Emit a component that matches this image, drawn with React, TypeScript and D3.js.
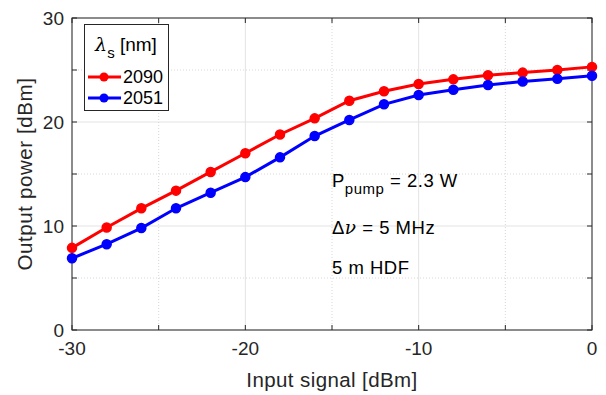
import React from 'react';
import * as d3 from 'd3';

// Input signal [dBm]
const inputSignal = [-30, -28, -26, -24, -22, -20, -18, -16, -14, -12, -10, -8, -6, -4, -2, 0];
// Output power [dBm] at 2090 nm
const out2090 = [7.9, 9.85, 11.7, 13.4, 15.2, 17.0, 18.8, 20.35, 22.05, 22.95, 23.65, 24.1, 24.5, 24.75, 25.0, 25.3];
// Output power [dBm] at 2051 nm
const out2051 = [6.9, 8.25, 9.8, 11.7, 13.2, 14.7, 16.6, 18.65, 20.2, 21.7, 22.6, 23.1, 23.55, 23.9, 24.15, 24.45];

const xTicks = [-30, -20, -10, 0];
const xMinor = [-25, -15, -5];
const yTicks = [0, 10, 20, 30];
const yMinor = [5, 15, 25];

const seriesList = [
  { label: '2090', color: '#ff0000', values: out2090 },
  { label: '2051', color: '#0000ff', values: out2051 },
];

const W = 606;
const H = 395;
const margin = { top: 18, right: 14, bottom: 65, left: 72 };
const font = 'Liberation Sans, Arial, sans-serif';

export default function App() {
  const x = d3.scaleLinear().domain([-30, 0]).range([margin.left, W - margin.right]);
  const y = d3.scaleLinear().domain([0, 30]).range([H - margin.bottom, margin.top]);
  const line = d3
    .line<number>()
    .x((_, i) => x(inputSignal[i]))
    .y((d) => y(d));

  const x0 = x(-30), x1 = x(0), y0 = y(0), y1 = y(30);

  return (
    <svg
      width={W}
      height={H}
      style={{ position: 'absolute', left: 0, top: 0, background: '#fff' }}
      fontFamily={font}
    >
      {/* grid */}
      {xTicks.map((t) => (
        <line key={'gx' + t} x1={x(t)} x2={x(t)} y1={y0} y2={y1} stroke="#e3e3e3" strokeWidth={1} />
      ))}
      {yTicks.map((t) => (
        <line key={'gy' + t} x1={x0} x2={x1} y1={y(t)} y2={y(t)} stroke="#e3e3e3" strokeWidth={1} />
      ))}
      {xMinor.map((t) => (
        <line key={'mx' + t} x1={x(t)} x2={x(t)} y1={y0} y2={y1} stroke="#d8d8d8" strokeWidth={1} strokeDasharray="1,2" />
      ))}
      {yMinor.map((t) => (
        <line key={'my' + t} x1={x0} x2={x1} y1={y(t)} y2={y(t)} stroke="#d8d8d8" strokeWidth={1} strokeDasharray="1,2" />
      ))}

      {/* box */}
      <rect x={x0} y={y1} width={x1 - x0} height={y0 - y1} fill="none" stroke="#262626" strokeWidth={1} />

      {/* ticks */}
      {[...xTicks, ...xMinor].map((t) => (
        <g key={'tx' + t}>
          <line x1={x(t)} x2={x(t)} y1={y0} y2={y0 - 5} stroke="#262626" />
          <line x1={x(t)} x2={x(t)} y1={y1} y2={y1 + 5} stroke="#262626" />
        </g>
      ))}
      {[...yTicks, ...yMinor].map((t) => (
        <g key={'ty' + t}>
          <line x1={x0} x2={x0 + 5} y1={y(t)} y2={y(t)} stroke="#262626" />
          <line x1={x1} x2={x1 - 5} y1={y(t)} y2={y(t)} stroke="#262626" />
        </g>
      ))}
      {xTicks.map((t) => (
        <text key={'lx' + t} x={x(t)} y={y0 + 25} textAnchor="middle" fontSize={19} fill="#262626">
          {t}
        </text>
      ))}
      {yTicks.map((t) => (
        <text key={'ly' + t} x={x0 - 8} y={y(t) + 7} textAnchor="end" fontSize={19} fill="#262626">
          {t}
        </text>
      ))}

      {/* axis labels */}
      <text x={(x0 + x1) / 2} y={H - 8} textAnchor="middle" fontSize={20.5} letterSpacing={0.4} fill="#262626">
        Input signal [dBm]
      </text>
      <text
        transform={`translate(32,${(y0 + y1) / 2}) rotate(-90)`}
        textAnchor="middle"
        fontSize={20.5}
        letterSpacing={0.6}
        fill="#262626"
      >
        Output power [dBm]
      </text>

      {/* series */}
      {seriesList.map((s) => (
        <g key={s.label}>
          <path d={line(s.values) || ''} fill="none" stroke={s.color} strokeWidth={3} />
          {s.values.map((v, i) => (
            <circle key={i} cx={x(inputSignal[i])} cy={y(v)} r={4.5} fill={s.color} stroke={s.color} strokeWidth={1.5} />
          ))}
        </g>
      ))}

      {/* annotations */}
      <text x={332} y={187} fontSize={18.5} letterSpacing={0.5} fill="#000">
        P<tspan dy={7} fontSize={15}>pump</tspan>
        <tspan dy={-7}> = 2.3 W</tspan>
      </text>
      <text x={332} y={234} fontSize={18.5} letterSpacing={0.5} fill="#000">
        Δ<tspan fontStyle="italic" fontFamily="DejaVu Serif, serif">ν</tspan> = 5 MHz
      </text>
      <text x={332} y={274} fontSize={18.5} letterSpacing={0.5} fill="#000">
        5 m HDF
      </text>

      {/* legend */}
      <g>
        <rect x={84.5} y={24.5} width={84} height={86} fill="#fff" stroke="#262626" strokeWidth={1} />
        <text x={126} y={51} textAnchor="middle" fontSize={19} fill="#000">
          <tspan fontStyle="italic" fontFamily="DejaVu Serif, serif">λ</tspan>
          <tspan dy={7} fontSize={15}>s</tspan>
          <tspan dy={-7}> [nm]</tspan>
        </text>
        {seriesList.map((s, i) => {
          const ly = 77 + i * 21;
          return (
            <g key={'lg' + s.label}>
              <line x1={88} x2={121} y1={ly} y2={ly} stroke={s.color} strokeWidth={3} />
              <circle cx={104} cy={ly} r={4.5} fill={s.color} />
              <text x={123} y={ly + 6} fontSize={18} fill="#000">
                {s.label}
              </text>
            </g>
          );
        })}
      </g>
    </svg>
  );
}
